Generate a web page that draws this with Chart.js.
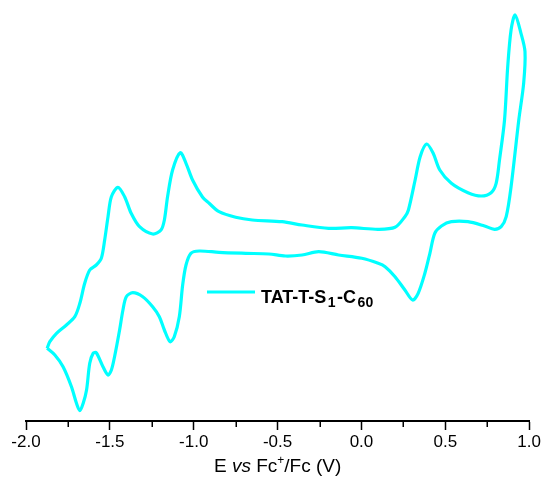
<!DOCTYPE html>
<html>
<head>
<meta charset="utf-8">
<script src="https://cdn.jsdelivr.net/npm/chart.js@4.4.0/dist/chart.umd.min.js"></script>
<style>
  html, body { margin: 0; padding: 0; background: #fff; }
  #wrap { width: 543px; height: 478px; }
</style>
</head>
<body>
<div id="wrap"><canvas id="c" width="543" height="478"></canvas></div>
<script>
// Potential (V vs Fc+/Fc), closed CV loop: forward (upper) branch then reverse (lower) branch
const potential = [
  -1.874, -1.858, -1.818, -1.759, -1.709, -1.679, -1.650, -1.620, -1.581, -1.551,
  -1.531, -1.511, -1.491, -1.452, -1.412, -1.373, -1.323, -1.245, -1.195, -1.175,
  -1.156, -1.126, -1.080, -1.046, -1.007, -0.948, -0.908, -0.849, -0.750, -0.651,
  -0.473, -0.354, -0.196, -0.058, 0.100, 0.200, 0.259, 0.280, 0.320, 0.350,
  0.388, 0.427, 0.467, 0.536, 0.635, 0.714, 0.773, 0.803, 0.823, 0.853,
  0.872, 0.892, 0.916, 0.951, 0.975,
  0.967, 0.938, 0.892, 0.863, 0.833, 0.793, 0.734, 0.635, 0.536, 0.477,
  0.437, 0.408, 0.378, 0.338, 0.305, 0.259, 0.200, 0.141, 0.100, 0.002,
  -0.136, -0.255, -0.354, -0.453, -0.552, -0.690, -0.849, -0.967, -1.017, -1.046,
  -1.066, -1.086, -1.116, -1.141, -1.175, -1.205, -1.245, -1.304, -1.363, -1.402,
  -1.422, -1.442, -1.472, -1.491, -1.511, -1.541, -1.581, -1.600, -1.620, -1.639,
  -1.659, -1.679, -1.699, -1.729, -1.779, -1.828, -1.874
];
// Current (arbitrary units)
const current = [
  -11.93, -11.27, -10.43, -9.60, -8.77, -7.43, -5.43, -4.10, -3.60, -2.93,
  -1.10, 1.23, 3.23, 4.17, 3.23, 1.57, 0.23, -0.50, -0.10, 0.90,
  3.23, 5.90, 7.63, 6.57, 4.90, 3.20, 2.57, 1.73, 1.17, 0.90,
  0.73, 0.40, 0.07, 0.13, -0.03, 0.17, 1.23, 1.90, 4.90, 7.23,
  8.50, 7.60, 5.90, 4.57, 3.63, 3.30, 3.63, 4.57, 6.90, 10.90,
  16.23, 19.90, 21.40, 19.57, 17.73,
  14.57, 10.90, 4.23, 1.23, 0.23, -0.03, 0.30, 0.73, 0.73, 0.30,
  -0.43, -2.43, -4.43, -6.43, -7.10, -6.10, -4.77, -3.77, -3.43, -2.93,
  -2.60, -2.27, -2.60, -2.70, -2.50, -2.43, -2.33, -2.20, -2.43, -3.60,
  -5.60, -8.77, -10.77, -11.27, -10.10, -8.77, -7.77, -6.77, -6.37, -6.77,
  -8.10, -10.10, -12.77, -14.10, -14.60, -13.77, -12.37, -12.43, -13.43, -16.10,
  -17.43, -18.17, -17.43, -15.77, -13.77, -12.60, -11.93
];
const xMajorTicks = [-2.0, -1.5, -1.0, -0.5, 0.0, 0.5, 1.0];
const xMinorTicks = [-1.75, -1.25, -0.75, -0.25, 0.25, 0.75];
const seriesName = ['TAT-T-S', '1', '-C', '60'];
const axisTitleParts = [['E ', 'normal'], ['vs', 'italic'], [' Fc', 'normal'], ['+', 'sup'], ['/Fc (V)', 'normal']];

const points = potential.map((e, i) => ({ x: e, y: current[i] }));
const CYAN = '#00FFFF';
const FONT = '"Liberation Sans", Arial, sans-serif';

const extras = {
  id: 'extras',
  afterDraw(chart) {
    const ctx = chart.ctx;
    const xs = chart.scales.x;
    const area = chart.chartArea;
    ctx.save();
    // minor ticks
    ctx.strokeStyle = '#000';
    ctx.lineWidth = 1.5;
    xMinorTicks.forEach(v => {
      const px = Math.round(xs.getPixelForValue(v)) + 0.25;
      ctx.beginPath();
      ctx.moveTo(px, area.bottom);
      ctx.lineTo(px, area.bottom + 6);
      ctx.stroke();
    });
    // legend
    ctx.strokeStyle = CYAN;
    ctx.lineWidth = 3;
    ctx.beginPath();
    ctx.moveTo(207, 292);
    ctx.lineTo(255, 292);
    ctx.stroke();
    ctx.fillStyle = '#000';
    ctx.textBaseline = 'alphabetic';
    const base = 302.5;
    let x = 261;
    seriesName.forEach((t, i) => {
      const sub = i % 2 === 1;
      ctx.font = 'bold ' + (sub ? 14 : 18) + 'px ' + FONT;
      ctx.fillText(t, x, sub ? base + 4 : base);
      x += ctx.measureText(t).width + 1.5;
    });
    // axis title
    const fs = 19;
    let total = 0;
    axisTitleParts.forEach(([t, s]) => {
      ctx.font = (s === 'italic' ? 'italic ' : '') + (s === 'sup' ? 12 : fs) + 'px ' + FONT;
      total += ctx.measureText(t).width;
    });
    x = (area.left + area.right) / 2 - total / 2;
    const tb = 471.5;
    axisTitleParts.forEach(([t, s]) => {
      ctx.font = (s === 'italic' ? 'italic ' : '') + (s === 'sup' ? 12 : fs) + 'px ' + FONT;
      ctx.fillText(t, x, s === 'sup' ? tb - 8 : tb);
      x += ctx.measureText(t).width;
    });
    ctx.restore();
  }
};

new Chart(document.getElementById('c'), {
  type: 'scatter',
  data: {
    datasets: [{
      label: 'TAT-T-S1-C60',
      data: points,
      showLine: true,
      borderColor: CYAN,
      backgroundColor: CYAN,
      borderWidth: 3.2,
      pointRadius: 0,
      tension: 0.3,
      fill: false
    }]
  },
  options: {
    responsive: false,
    animation: false,
    devicePixelRatio: 1,
    layout: { padding: { left: 26, right: 11.5, top: 5, bottom: 0 } },
    plugins: { legend: { display: false }, tooltip: { enabled: false } },
    scales: {
      x: {
        type: 'linear',
        min: -2, max: 1,
        afterBuildTicks(scale) { scale.ticks = xMajorTicks.map(v => ({ value: v })); },
        afterFit(scale) { scale.height = 57; },
        ticks: {
          color: '#000',
          padding: 2,
          font: { family: FONT, size: 17 },
          callback: v => Number(v).toFixed(1),
          maxRotation: 0,
          autoSkip: false
        },
        grid: { display: true, drawOnChartArea: false, drawTicks: true, tickLength: 9, tickColor: '#000', tickWidth: 1.5 },
        border: { display: true, color: '#000', width: 2 }
      },
      y: {
        display: false,
        min: -19.2, max: 22.4
      }
    }
  },
  plugins: [extras]
});
</script>
</body>
</html>
